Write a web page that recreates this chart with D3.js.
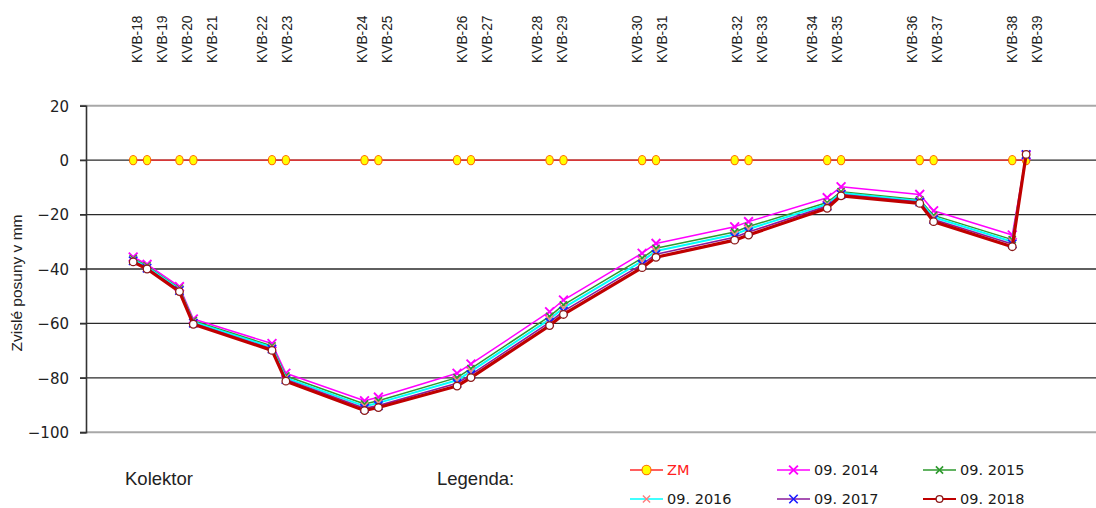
<!DOCTYPE html>
<html>
<head>
<meta charset="utf-8">
<script src="https://cdn.jsdelivr.net/npm/d3@7"></script>
<style>
  html, body { margin: 0; padding: 0; background: #fff; }
  svg { display: block; }
</style>
</head>
<body>
<svg id="chart" width="1096" height="508"></svg>
<script>
// Measuring points along the collector (KVB-18 … KVB-39)
const points = ["KVB-18","KVB-19","KVB-20","KVB-21","KVB-22","KVB-23","KVB-24","KVB-25",
  "KVB-26","KVB-27","KVB-28","KVB-29","KVB-30","KVB-31","KVB-32","KVB-33","KVB-34",
  "KVB-35","KVB-36","KVB-37","KVB-38","KVB-39"];

// Chainage of each point [m]
const chainage = [0, 3, 10, 13, 30, 33, 50, 53, 70, 73, 90, 93, 110, 113,
  130, 133, 150, 153, 170, 173, 190, 193];

// Header row of point names (empty cells between the groups)
const headerRow = ["KVB-18","KVB-19","KVB-20","KVB-21","","KVB-22","KVB-23","","",
  "KVB-24","KVB-25","","","KVB-26","KVB-27","","KVB-28","KVB-29","","","KVB-30","KVB-31",
  "","","KVB-32","KVB-33","","KVB-34","KVB-35","","","KVB-36","KVB-37","","","KVB-38","KVB-39"];

// Vertical displacements [mm]
const zm = [0,0,0,0,0,0,0,0,0,0,0,0,0,0,0,0,0,0,0,0,0,0];
const s2014 = [-35.6,-38.3,-46.5,-58.4,-67.4,-78.3,-88.4,-87.1,-78.3,-74.9,-55.7,-51.4,
  -34.2,-30.6,-24.5,-22.6,-13.8,-9.8,-12.6,-18.6,-27.5,1.8];
const s2015 = [-36.2,-38.9,-47.1,-59.0,-68.3,-79.3,-89.6,-88.4,-79.9,-76.6,-57.4,-53.2,
  -36.0,-32.4,-26.4,-24.4,-15.6,-11.6,-14.6,-20.3,-29.2,1.9];
const s2016 = [-36.6,-39.3,-47.5,-59.5,-68.8,-80.0,-90.4,-89.2,-80.9,-77.6,-58.5,-54.3,
  -37.1,-33.4,-27.3,-25.3,-16.2,-12.1,-15.0,-21.0,-30.0,2.0];
const s2017 = [-37.0,-39.7,-47.9,-59.9,-69.4,-80.6,-91.2,-90.2,-82.0,-78.8,-59.6,-55.5,
  -38.3,-34.6,-28.3,-26.4,-16.9,-12.6,-15.4,-21.8,-30.8,2.1];
const s2018 = [-37.4,-40.0,-48.3,-60.3,-69.9,-81.2,-92.0,-90.9,-83.0,-79.9,-60.8,-56.7,
  -39.5,-35.7,-29.4,-27.5,-17.7,-13.1,-15.9,-22.6,-31.8,2.1];

const yTicks = [20, 0, -20, -40, -60, -80, -100];

const seriesNames = ["ZM", "09. 2014", "09. 2015", "09. 2016", "09. 2017", "09. 2018"];
const seriesValues = [zm, s2014, s2015, s2016, s2017, s2018];

// Styling per series
const styles = {
  "ZM":       { line: "#ff2a2a", width: 1.4, marker: "dot",    mFill: "#ffff00", mStroke: "#ff6a00" },
  "09. 2014": { line: "#ff00ff", width: 1.5, marker: "x",      mStroke: "#ff00ff", size: 4.4, mw: 1.9 },
  "09. 2015": { line: "#2e9a2e", width: 1.5, marker: "x",      mStroke: "#2e9a2e", size: 3.6, mw: 1.6 },
  "09. 2016": { line: "#00ffff", width: 2.0, marker: "x",      mStroke: "#ff7f7f", size: 3.6, mw: 1.4 },
  "09. 2017": { line: "#8a1a9a", width: 1.6, marker: "x",      mStroke: "#1a1aff", size: 4.2, mw: 1.6 },
  "09. 2018": { line: "#c00000", width: 3.2, marker: "circle", mFill: "#ffffff", mStroke: "#8b1a1a" }
};

const svg = d3.select("#chart");
svg.append("rect").attr("width", 1096).attr("height", 508).attr("fill", "#fff");

const x = d3.scaleLinear().domain([-10.2, 208.1]).range([86, 1096]);
const y = d3.scaleLinear().domain([-100, 20]).range([432.3, 105.7]);

// Horizontal grid
const grid = svg.append("g");
grid.selectAll("line").data(yTicks).join("line")
  .attr("x1", 80).attr("x2", 1096)
  .attr("y1", d => y(d)).attr("y2", d => y(d))
  .attr("stroke", d => (d === 20 || d === -100) ? "#a8a8a8" : "#2a2a2a")
  .attr("stroke-width", d => (d === 20 || d === -100) ? 2 : 1.3);

// Y axis
const yAxis = d3.axisLeft(y).tickValues(yTicks).tickSize(6).tickPadding(11)
  .tickFormat(d3.format("d"));
const ya = svg.append("g").attr("transform", "translate(86,0)").call(yAxis);
ya.select(".domain").attr("stroke", "#333").attr("stroke-width", 1.6);
ya.selectAll(".tick line").attr("stroke", "#333").attr("stroke-width", 1.3);
ya.selectAll(".tick text")
  .attr("font-family", "'DejaVu Sans', sans-serif")
  .attr("font-size", 15).attr("fill", "#222").attr("dy", "0.36em");

svg.append("text")
  .attr("transform", "translate(22,283) rotate(-90)")
  .attr("text-anchor", "middle")
  .attr("font-family", "'Liberation Sans', Arial, sans-serif")
  .attr("font-size", 15.5).attr("fill", "#222")
  .text("Zvislé posuny v mm");

// Header labels above the plot
const hx = d3.scaleLinear().domain([0, headerRow.length - 1]).range([137, 1037]);
svg.append("g").selectAll("text")
  .data(headerRow.map((t, i) => ({ t, i })).filter(d => d.t !== ""))
  .join("text")
  .attr("transform", d => `translate(${hx(d.i) + 5},63) rotate(-90)`)
  .attr("font-family", "'Liberation Sans', Arial, sans-serif")
  .attr("font-size", 13.8).attr("fill", "#222")
  .text(d => d.t);

// Series
const line = d3.line().x(d => x(d.c)).y(d => y(d.v));

function drawMarker(g, st, px, py, legend) {
  if (st.marker === "dot") {
    g.append("ellipse").attr("cx", px).attr("cy", py)
      .attr("rx", legend ? 4.5 : 3.7).attr("ry", legend ? 4.8 : 4.6)
      .attr("fill", st.mFill).attr("stroke", st.mStroke).attr("stroke-width", 1.1);
  } else if (st.marker === "circle") {
    g.append("circle").attr("cx", px).attr("cy", py).attr("r", legend ? 3.4 : 3.8)
      .attr("fill", st.mFill).attr("stroke", st.mStroke).attr("stroke-width", 1.3);
  } else {
    const s = st.size;
    g.append("path")
      .attr("d", `M${px - s},${py - s}L${px + s},${py + s}M${px - s},${py + s}L${px + s},${py - s}`)
      .attr("stroke", st.mStroke).attr("stroke-width", st.mw).attr("fill", "none");
  }
}

seriesNames.forEach((name, si) => {
  const st = styles[name];
  const data = seriesValues[si].map((v, i) => ({ v, c: chainage[i] }));
  const g = svg.append("g");
  g.append("path").datum(data).attr("d", line)
    .attr("fill", "none").attr("stroke", st.line).attr("stroke-width", st.width)
    .attr("stroke-linejoin", "round");
  data.forEach(d => drawMarker(g, st, x(d.c), y(d.v), false));
});

// Captions
svg.append("text").attr("x", 125).attr("y", 485)
  .attr("font-family", "'Liberation Sans', Arial, sans-serif")
  .attr("font-size", 18.5).attr("fill", "#222").text("Kolektor");
svg.append("text").attr("x", 437).attr("y", 485)
  .attr("font-family", "'Liberation Sans', Arial, sans-serif")
  .attr("font-size", 18.5).attr("fill", "#222").text("Legenda:");

// Legend
const legendCols = [630, 777, 923];
const legendRows = [470, 499];
seriesNames.forEach((name, i) => {
  const st = styles[name];
  const lx = legendCols[i % 3], ly = legendRows[Math.floor(i / 3)];
  const g = svg.append("g");
  g.append("line").attr("x1", lx).attr("x2", lx + 33).attr("y1", ly).attr("y2", ly)
    .attr("stroke", st.line).attr("stroke-width", name === "09. 2018" ? 2.2 : 1.5);
  drawMarker(g, st, lx + 16.5, ly, true);
  g.append("text").attr("x", lx + 37).attr("y", ly + 5.2)
    .attr("font-family", "'DejaVu Sans', sans-serif")
    .attr("font-size", 14.5)
    .attr("fill", name === "ZM" ? "#ff2020" : "#1a1a1a")
    .text(name);
});
</script>
</body>
</html>
